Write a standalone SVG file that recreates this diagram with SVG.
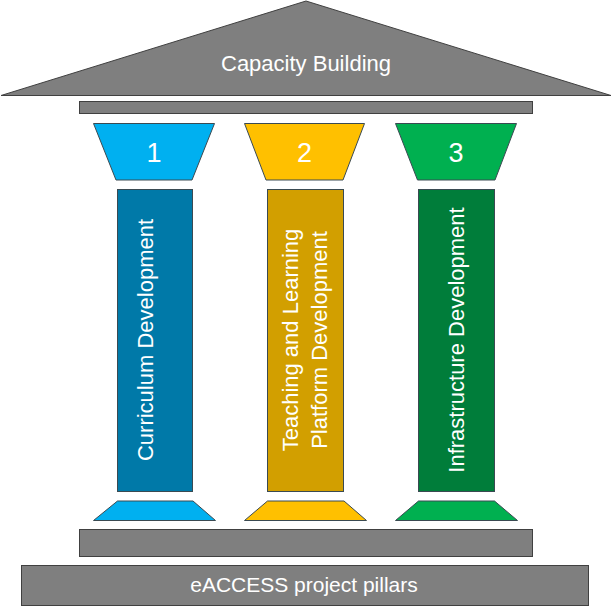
<svg xmlns="http://www.w3.org/2000/svg" width="612" height="606" viewBox="0 0 612 606">
<style>
  .gray { fill: #7f7f7f; stroke: #404040; stroke-width: 1; }
  .edge { stroke: #3a4a52; stroke-width: 1; }
  .t { font-family: "Liberation Sans", Arial, sans-serif; fill: #ffffff; text-anchor: middle; }
  .lbl { font-size: 22px; }
  .foot { font-size: 21px; }
  .num { font-size: 27px; }
  .c1 { fill: #00b0f0; } .s1 { fill: #0079a8; }
  .c2 { fill: #ffc000; } .s2 { fill: #d29f00; }
  .c3 { fill: #00b050; } .s3 { fill: #007d3a; }
</style>
<rect width="612" height="606" fill="#ffffff"/>
<g id="roof">
  <polygon class="gray" points="1,95.5 306,1 611,95.5"/>
  <text class="t lbl" x="306" y="71">Capacity Building</text>
</g>
<g id="beam">
  <rect class="gray" x="79.5" y="101.5" width="453" height="12"/>
</g>
<g id="pillar1">
  <polygon class="c1 edge" points="93.5,123.5 214.5,123.5 192,180 116,180"/>
  <text class="t num" x="154" y="161.5">1</text>
  <rect class="s1 edge" x="117.5" y="189.5" width="75" height="302"/>
  <text class="t lbl" transform="translate(153,340) rotate(-90)" x="0" y="0">Curriculum Development</text>
  <polygon class="c1 edge" points="117.5,501 193,501 215.5,520.5 93.5,520.5"/>
</g>
<g id="pillar2">
  <polygon class="c2 edge" points="244.5,123.5 364.5,123.5 343,180 266,180"/>
  <text class="t num" x="304.5" y="161.5">2</text>
  <rect class="s2 edge" x="267.5" y="189.5" width="76" height="302"/>
  <text class="t lbl" transform="translate(298,340) rotate(-90)" x="0" y="0">Teaching and Learning</text>
  <text class="t lbl" transform="translate(327,340) rotate(-90)" x="0" y="0">Platform Development</text>
  <polygon class="c2 edge" points="267.5,501 344,501 366.5,520.5 244.5,520.5"/>
</g>
<g id="pillar3">
  <polygon class="c3 edge" points="395.5,123.5 516.5,123.5 495,180 417.5,180"/>
  <text class="t num" x="456" y="161.5">3</text>
  <rect class="s3 edge" x="418.5" y="189.5" width="76" height="302"/>
  <text class="t lbl" transform="translate(463.5,340) rotate(-90)" x="0" y="0">Infrastructure Development</text>
  <polygon class="c3 edge" points="418.5,501 494.5,501 517.5,520.5 395.5,520.5"/>
</g>
<g id="plinth">
  <rect class="gray" x="79.5" y="529.5" width="453" height="27"/>
</g>
<g id="footer">
  <rect class="gray" x="21.5" y="565.5" width="567" height="40"/>
  <text class="t foot" x="304" y="592">eACCESS project pillars</text>
</g>
<g id="connectors"></g>
</svg>
